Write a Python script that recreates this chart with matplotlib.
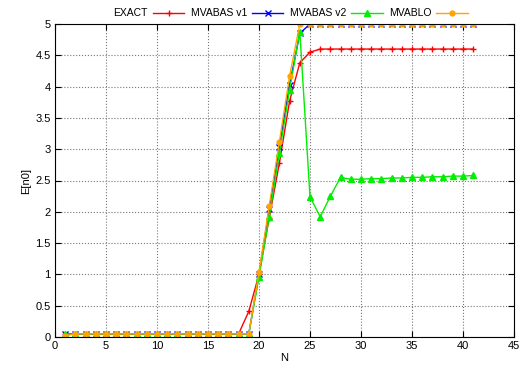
import numpy as np
import matplotlib
matplotlib.use('Agg')
from matplotlib import pyplot as plt

plt.rcParams['font.family'] = ['Liberation Sans', 'DejaVu Sans']
plt.rcParams['font.size'] = 8

N = list(range(1, 42))

flat = [0.05] * 17
exact = flat + [0.05, 0.41, 1.0, 1.9, 2.78, 3.77, 4.38, 4.55, 4.6] + [4.6] * 15
mvabas_v1 = flat + [0.05, 0.05, 1.0, 2.04, 3.04, 4.03, 4.85, 5.0, 5.0] + [5.0] * 15
mvabas_v2 = flat + [0.05, 0.05, 0.96, 1.92, 2.94, 3.95, 4.88, 2.24, 1.92, 2.25, 2.55,
                    2.52, 2.52, 2.53, 2.53, 2.54, 2.54, 2.55, 2.55, 2.56, 2.56, 2.57, 2.57, 2.58]
mvablo = [0.02] + [0.05] * 16 + [0.05, 0.05, 1.04, 2.09, 3.12, 4.17, 5.0, 5.0, 5.0] + [5.0] * 15

labels = ['EXACT', 'MVABAS v1', 'MVABAS v2', 'MVABLO']

fig = plt.figure(figsize=(5.19, 3.73), dpi=100)
ax = fig.add_axes([55/519, 1 - 337/373, (514-55)/519, (337-24)/373])

ax.plot(N, exact, '-', color='#ff0000', marker='+', ms=5, lw=1, label=labels[0])
ax.plot(N, mvabas_v1, '-', color='#0000ff', marker='x', ms=4, lw=1, label=labels[1])
ax.plot(N, mvabas_v2, '-', color='#00ee00', marker='^', ms=4, lw=1, label=labels[2])
ax.plot(N, mvablo, '-', color='#ffa500', marker='o', ms=3.5, lw=1, label=labels[3])

ax.set_xlim(0, 45)
ax.set_ylim(0, 5)
ax.set_xticks(range(0, 46, 5))
ax.set_yticks(np.arange(0, 5.01, 0.5))
ax.set_yticklabels(['0', '0.5', '1', '1.5', '2', '2.5', '3', '3.5', '4', '4.5', '5'])
ax.tick_params(direction='in', top=True, right=True, length=4, pad=3)
ax.grid(True, linestyle=':', color='#777777', lw=0.8)
ax.set_xlabel('N', labelpad=1)
ax.set_ylabel('E[n0]', labelpad=3)

fig.legend(loc='upper center', bbox_to_anchor=(0.56, 1.003), ncol=4, frameon=False,
           markerfirst=False, handlelength=3.0, columnspacing=0.6, handletextpad=0.5,
           fontsize=7.5)

fig.savefig('out.png', dpi=100)
